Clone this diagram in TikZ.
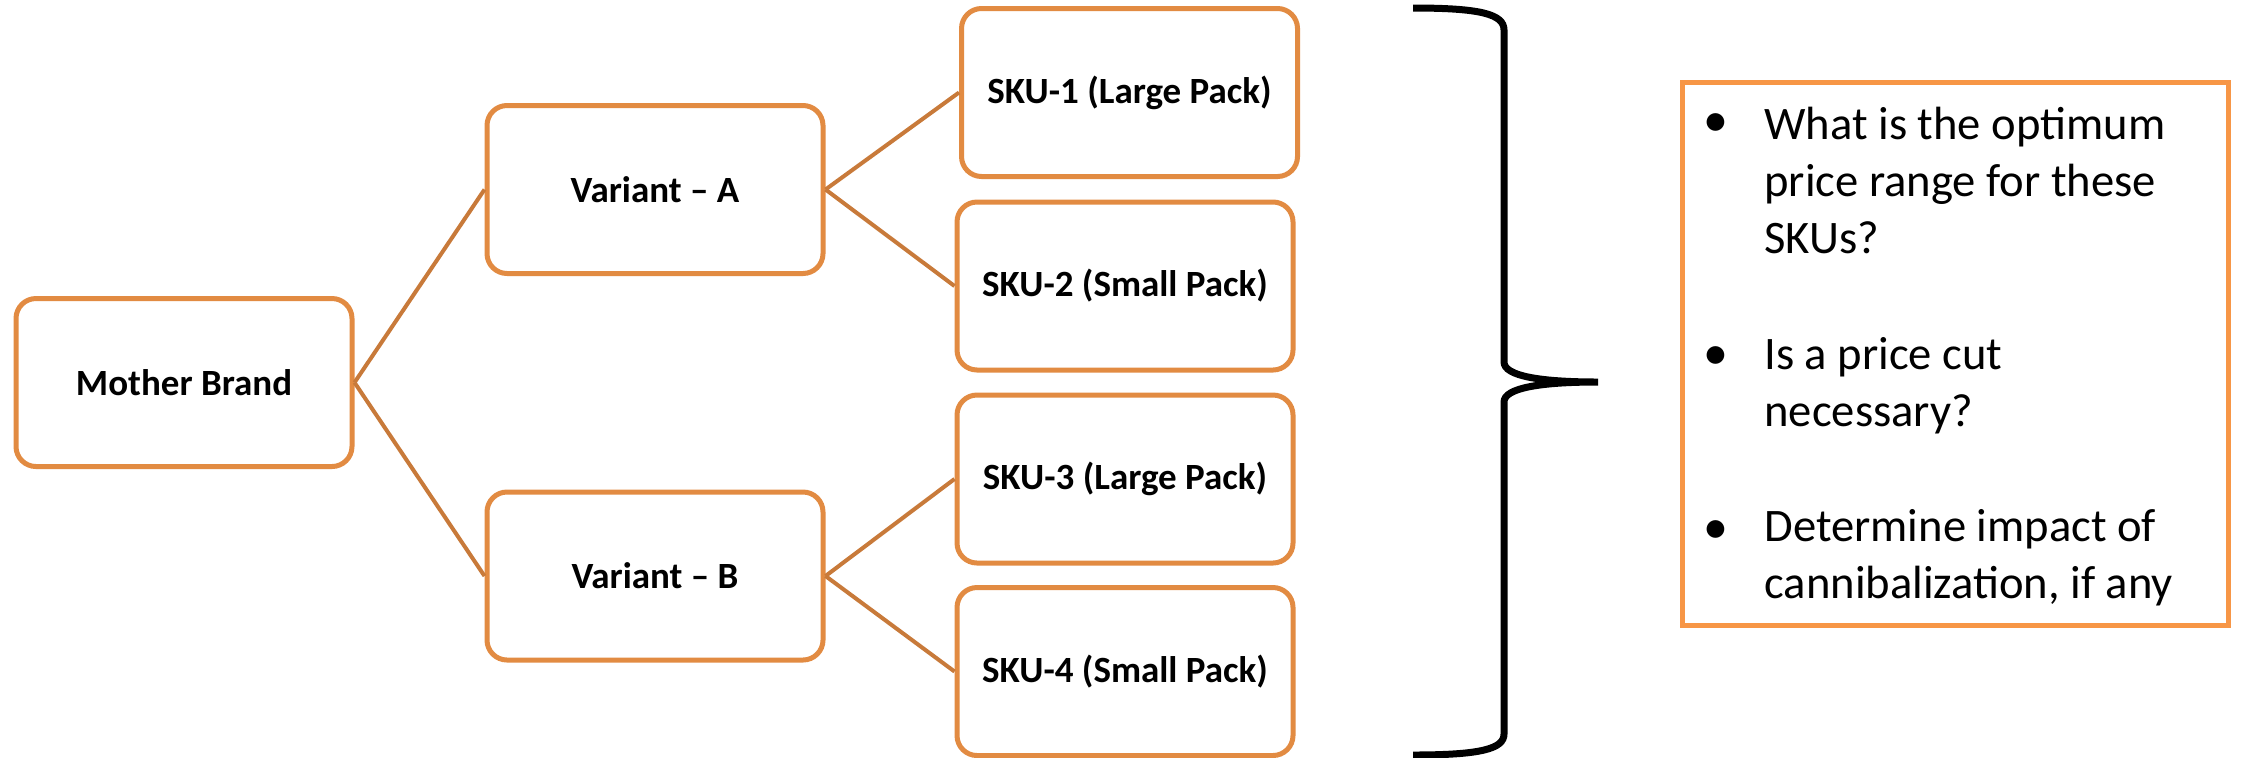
\documentclass[tikz,border=0pt]{standalone}
\usepackage{fontspec}
\setmainfont{Carlito}
\definecolor{boxorange}{RGB}{226,139,66}
\definecolor{lineorange}{RGB}{200,122,58}
\definecolor{noteorange}{RGB}{247,150,70}
\tikzset{
    level/.style={inner sep=0pt, draw=boxorange, line width=2.5pt, rounded corners=10pt, fill=white, minimum width=168pt, minimum height=84pt, font=\fontsize{18.5}{22}\selectfont\bfseries},
    branch/.style={draw=lineorange, line width=2pt},
    note/.style={inner sep=0pt, draw=noteorange, line width=2.5pt, minimum width=273pt, minimum height=271.5pt},
    question/.style={inner sep=0pt, anchor=base west, align=left, font=\fontsize{23.3}{28.5}\selectfont},
    dot/.style={inner sep=0pt, anchor=base, font=\fontsize{25}{28}\selectfont},
    brace/.style={draw=black, line width=3.5pt},
}
\begin{document}
\begin{tikzpicture}[x=0.5pt, y=-0.5pt]
    \useasboundingbox (0,0) rectangle (2246,757);
    \node[level] (mother) at (184,382.5) {Mother Brand};
    \node[level] (varA) at (655,189.5) {Variant -- A};
    \node[level] (varB) at (655,576) {Variant -- B};
    \node[level] (sku1) at (1129.5,92.5) {SKU-1 (Large Pack)};
    \node[level] (sku2) at (1125,286) {SKU-2 (Small Pack)};
    \node[level] (sku3) at (1125,479) {SKU-3 (Large Pack)};
    \node[level] (sku4) at (1125,671.5) {SKU-4 (Small Pack)};
    \draw[branch] (mother.east) -- (varA.west);
    \draw[branch] (mother.east) -- (varB.west);
    \draw[branch] (varA.east) -- (sku1.west);
    \draw[branch] (varA.east) -- (sku2.west);
    \draw[branch] (varB.east) -- (sku3.west);
    \draw[branch] (varB.east) -- (sku4.west);
    \draw[brace] (1413,8) .. controls (1480,8) and (1504,14) .. (1504,30) -- (1504,362)
        .. controls (1504,376) and (1540,382) .. (1598,382)
        .. controls (1540,382) and (1504,388) .. (1504,402) -- (1504,734)
        .. controls (1504,749) and (1480,755) .. (1413,755);
    \node[note] (questions) at (1955,353.5) {};
    \node[dot] (dot1) at (1716,136) {\textbullet};
    \node[dot] (dot2) at (1716,369) {\textbullet};
    \node[dot] (dot3) at (1716,543) {\textbullet};
    \node[question] (q1) at (1764,253) {What is the optimum\\price range for these\\SKUs?};
    \node[question] (q2) at (1764,426) {Is a price cut\\necessary?};
    \node[question] (q3) at (1764,598) {Determine impact of\\cannibalization, if any};
\end{tikzpicture}
\end{document}
